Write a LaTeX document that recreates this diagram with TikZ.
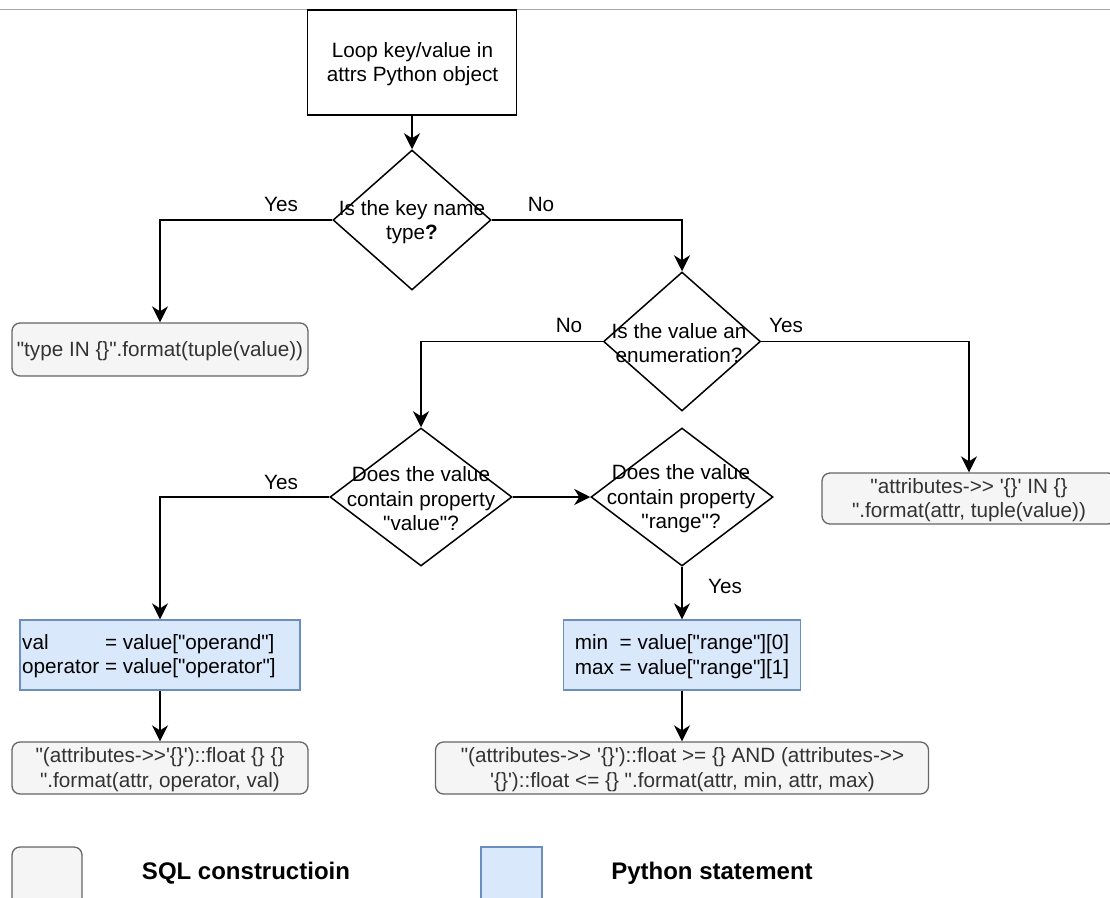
\documentclass[tikz,border=0pt]{standalone}
\usepackage{fontspec}
\setmainfont{Liberation Sans}[Ligatures=TeXOff]
\usetikzlibrary{shapes.geometric,arrows.meta}
\definecolor{sqlfill}{HTML}{F5F5F5}
\definecolor{sqldraw}{HTML}{666666}
\definecolor{sqltext}{HTML}{333333}
\definecolor{pyfill}{HTML}{DAE8FC}
\definecolor{pydraw}{HTML}{6C8EBF}
\definecolor{rulegray}{HTML}{A8A8A8}
\begin{document}
\begin{tikzpicture}[x=1pt,y=-1pt,
  font=\fontsize{20.7}{24.5}\selectfont,
  flow/.style={line width=1.7pt,-{Stealth[length=16pt,width=16pt,inset=5pt]}},
  startbox/.style={draw,line width=1.5pt,inner sep=0pt,align=center},
  decision/.style={diamond,draw,line width=1.5pt,inner sep=0pt},
  qtext/.style={align=center,inner sep=0pt},
  sqlbox/.style={draw=sqldraw,fill=sqlfill,text=sqltext,line width=1.3pt,
                 rounded corners=8pt,inner sep=0pt,align=center},
  pybox/.style={draw=pydraw,fill=pyfill,line width=1.3pt,inner sep=0pt,align=left},
  legtext/.style={font=\bfseries\fontsize{24}{28}\selectfont,inner sep=0pt}]
\useasboundingbox (0,0) rectangle (1110,897);

% thin rule along the top
\draw[rulegray,line width=1pt] (0,9) -- (1110,9);

% start
\node[startbox,minimum width=209pt,minimum height=105pt] (start) at (412,62.5) {};
\node[qtext] (startt) at (412.5,64) {Loop key/value in\\attrs Python object};

% decisions
\node[decision,minimum width=158pt,minimum height=140pt] (d1) at (412,220) {};
\node[qtext] (d1t) at (412,222) {Is the key name\\type\textbf{?}};
\node[decision,minimum width=157pt,minimum height=139pt] (d2) at (682,341.5) {};
\node[qtext] (d2t) at (679,343) {Is the value an\\enumeration?};
\node[decision,minimum width=182pt,minimum height=138pt] (d3) at (421,497) {};
\node[qtext] (d3t) at (421,499) {Does the value\\contain property\\"value"?};
\node[decision,minimum width=182pt,minimum height=138pt] (d4) at (682,497) {};
\node[qtext] (d4t) at (681,499) {Does the value\\contain property\\"range"?};

% SQL constructions
\node[sqlbox,minimum width=296pt,minimum height=53pt] (s1) at (160,349.5) {};
\node[qtext,text=sqltext] (s1t) at (160,351) {"type IN \{\}".format(tuple(value))};
\node[sqlbox,minimum width=294pt,minimum height=51pt] (s4) at (969,498.5) {};
\node[qtext,text=sqltext] (s4t) at (969,500) {"attributes->> '\{\}' IN \{\}\\".format(attr, tuple(value))};
\node[sqlbox,minimum width=296pt,minimum height=52pt] (s2) at (160,768) {};
\node[qtext,text=sqltext] (s2t) at (160,769.5) {"(attributes->>'\{\}')::float \{\} \{\}\\".format(attr, operator, val)};
\node[sqlbox,minimum width=493pt,minimum height=52pt] (s3) at (682,768) {};
\node[qtext,text=sqltext] (s3t) at (682.5,769.5)
  {"(attributes->> '\{\}')::float >= \{\} AND (attributes->>\\'\{\}')::float <= \{\} ".format(attr, min, attr, max)};

% Python statements
\node[pybox,minimum width=280pt,minimum height=70pt] (p1) at (160,655) {};
\node[inner sep=0pt,anchor=west] (p1t) at (22,656.5)
  {\begin{tabular}{@{}l@{\ }l@{}}val & = value["operand"]\\operator & = value["operator"]\end{tabular}};
\node[pybox,minimum width=237pt,minimum height=70pt] (p2) at (682,655) {};
\node[inner sep=0pt,align=left] (p2t) at (682,656.5)
  {min\ \ = value["range"][0]\\max = value["range"][1]};

% connectors
\draw[flow] (start.south) -- (d1.north);
\draw[flow] (d1.west) -| (s1.north);
\draw[flow] (d1.east) -| (d2.north);
\draw[flow] (d2.west) -| (d3.north);
\draw[flow] (d2.east) -| (s4.north);
\draw[flow] (d3.west) -| (p1.north);
\draw[flow] (d3.east) -- (d4.west);
\draw[flow] (d4.south) -- (p2.north);
\draw[flow] (p1.south) -- (s2.north);
\draw[flow] (p2.south) -- (s3.north);

% branch labels
\node[inner sep=0pt] (y1) at (281,204) {Yes};
\node[inner sep=0pt] (n1) at (541,204) {No};
\node[inner sep=0pt] (n2) at (569,325) {No};
\node[inner sep=0pt] (y2) at (786,325) {Yes};
\node[inner sep=0pt] (y3) at (281,482) {Yes};
\node[inner sep=0pt] (y4) at (725,586) {Yes};

% legend
\node[sqlbox,minimum width=70pt,minimum height=62pt] (legsql) at (47,878) {};
\node[legtext] (legsqlt) at (246,873) {SQL constructioin};
\node[pybox,minimum width=61pt,minimum height=62pt] (legpy) at (511.5,878) {};
\node[legtext] (legpyt) at (712,873) {Python statement};
\end{tikzpicture}
\end{document}
